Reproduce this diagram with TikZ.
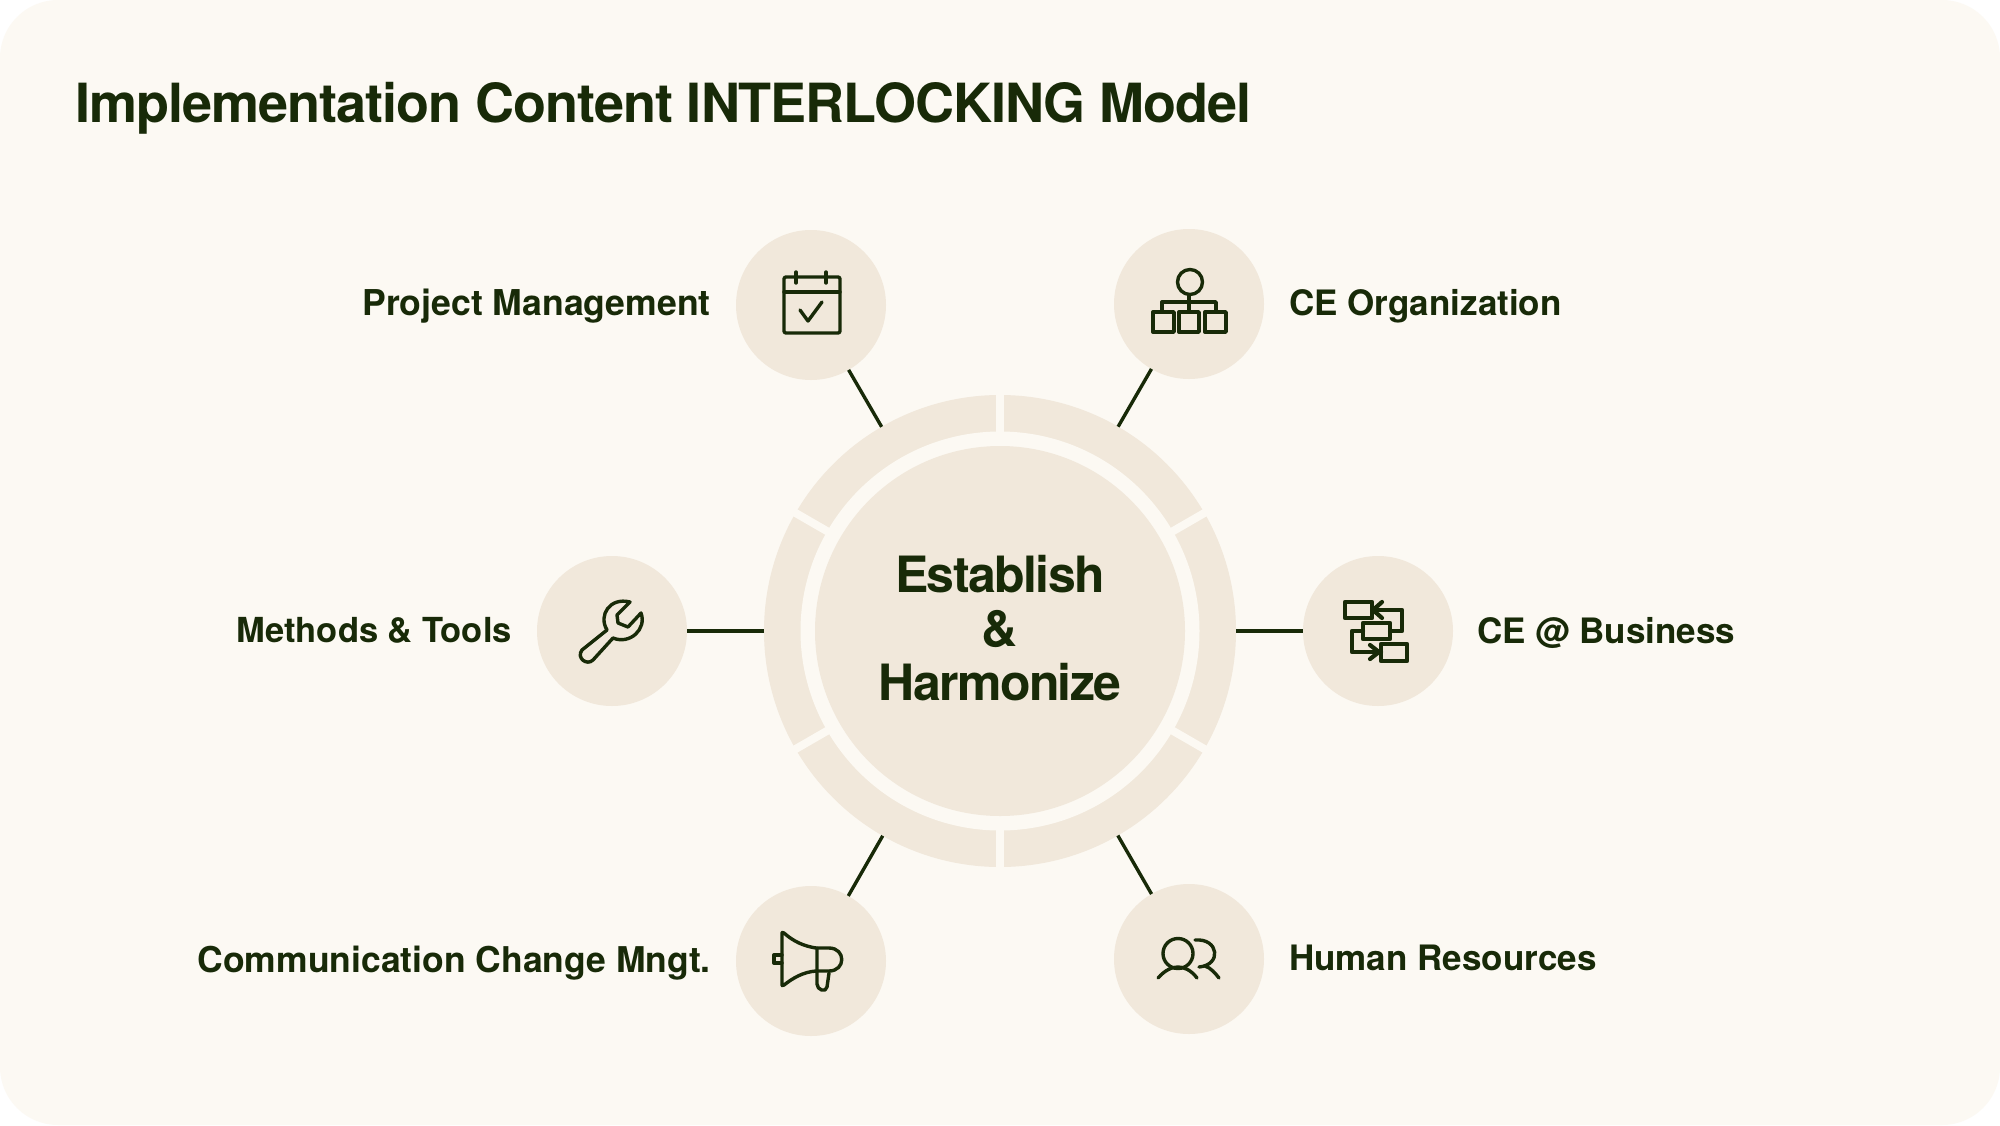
\documentclass[tikz,border=0pt]{standalone}
\usepackage{fontspec}
\setmainfont{TeX Gyre Heros}
\newfontfamily\titlefont{TeX Gyre Heros}[LetterSpace=-1.9]
\newfontfamily\corefont{TeX Gyre Heros}[LetterSpace=-3.2]
\definecolor{pagebg}{HTML}{FCF9F3}
\definecolor{tan}{HTML}{F1E8DB}
\definecolor{ink}{HTML}{182A08}
\tikzset{
  x=1pt,y=-1pt,
  spoke/.style={circle,fill=tan,draw=none,minimum size=150pt,inner sep=0pt,outer sep=0pt},
  hubring/.style={circle,fill=tan,draw=none,minimum size=472pt,inner sep=0pt,outer sep=0pt},
  hubcore/.style={circle,fill=tan,draw=none,minimum size=370pt,inner sep=0pt,outer sep=0pt},
  conn/.style={draw=ink,line width=3.4pt},
  lab/.style={text=ink,font=\bfseries\fontsize{35}{35}\selectfont,inner sep=0pt},
  ico/.style={draw=ink,line width=3.4pt,line join=round,line cap=round},
}
\begin{document}
\begin{tikzpicture}
\useasboundingbox (0,0) rectangle (2000,1125);
\fill[white] (0,0) rectangle (2000,1125);
\fill[pagebg,rounded corners=58pt] (0,0) rectangle (2000,1125);
\node[anchor=west,text=ink,font=\titlefont\bfseries\fontsize{54}{54}\selectfont,inner sep=0pt] (title) at (75,108) {Implementation Content INTERLOCKING Model};
\node[hubring] (hub) at (1000,631) {};
\fill[pagebg] (1000,631) circle (199.5pt);
\foreach \a in {30,90,150,210,270,330}
  \draw[pagebg,line width=8pt] (1000,631) ++(-\a:190pt) -- ++(-\a:55pt);
\node[hubcore] (core) at (1000,631) {};
\node[align=center,text=ink,inner sep=0pt,font=\corefont\bfseries\fontsize{50}{54}\selectfont] (coretext) at (1000,628.5) {Establish\\\&\\Harmonize};
\node[spoke] (pm) at (811,305) {};
\node[spoke] (org) at (1189,304) {};
\node[spoke] (mt) at (612,631) {};
\node[spoke] (biz) at (1378,631) {};
\node[spoke] (com) at (811,961) {};
\node[spoke] (hr) at (1189,959) {};
\foreach \s in {pm,org,mt,biz,com,hr} \draw[conn] (hub) -- (\s);
\node[lab,anchor=east,font=\bfseries\fontsize{35.6}{36}\selectfont] (lpm) at (711,306) {Project Management};
\node[lab,anchor=west] (lorg) at (1289,306) {CE Organization};
\node[lab,anchor=east,font=\bfseries\fontsize{34.5}{35}\selectfont] (lmt) at (512,630) {Methods \& Tools};
\node[lab,anchor=west] (lbiz) at (1477,633) {CE @ Business};
\node[lab,anchor=east,font=\bfseries\fontsize{35.5}{36}\selectfont] (lcom) at (711,963) {Communication Change Mngt.};
\node[lab,anchor=west] (lhr) at (1289,958) {Human Resources};
% calendar
\begin{scope}[shift={(pm.center)}]
\draw[ico,rounded corners=2pt] (-27,-28) rectangle (29,28);
\draw[ico] (-27,-13) -- (29,-13) (-15,-33) -- (-15,-22) (15,-33) -- (15,-22);
\draw[ico] (-11,5) -- (-3,16) -- (11,-3);
\end{scope}
% organisation
\begin{scope}[shift={(org.center)}]
\draw[ico] (1,-22) circle (12.5pt);
\draw[ico] (0,-9) -- (0,8) (-27,8) -- (-27,-2) -- (27,-2) -- (27,8);
\draw[ico] (-36,8) rectangle (-15,28) (-10,8) rectangle (10,28) (16,8) rectangle (37,28);
\end{scope}
% wrench
\begin{scope}[shift={(mt.center)}]
\draw[ico] (-5,-1) .. controls (-14,-16) and (-2,-34) .. (18,-29) -- (5,-16) -- (6,-8) -- (16,-4) -- (29,-18) .. controls (35,-2) and (18,14) .. (1,7) -- (-19,29) .. controls (-25,35) and (-36,27) .. (-30,19) -- cycle;
\end{scope}
% flow
\begin{scope}[shift={(biz.center)}]
\tikzset{ico/.append style={line width=4.2pt}}
\draw[ico] (-33,-29) rectangle (-6,-13) (-15,-8) rectangle (12,8) (3,13) rectangle (29,30);
\draw[ico] (-5,-21) -- (24,-21) -- (24,0) -- (12,0);
\draw[ico] (4,-29) -- (-5,-21) -- (4,-13);
\draw[ico] (-15,0) -- (-26,0) -- (-26,21) -- (3,21);
\draw[ico] (-8,14) -- (1,21) -- (-8,28);
\end{scope}
% megaphone
\begin{scope}[shift={(com.center)}]
\draw[ico] (-27,-28) .. controls (-18,-20) and (-8,-15) .. (5,-13) -- (18,-13) .. controls (35,-13) and (35,10) .. (18,10) -- (5,10) .. controls (-8,11) and (-18,17) .. (-27,24) .. controls (-29,25) and (-29,25) .. (-29,22) -- (-29,-26) .. controls (-29,-29) and (-29,-29) .. (-27,-28) -- cycle;
\draw[ico] (6,-13) -- (6,23) .. controls (6,29) and (15,32) .. (16,26) -- (18,12);
\draw[ico] (-29,-6) -- (-37,-6) -- (-37,2) -- (-29,2);
\end{scope}
% people
\begin{scope}[shift={(hr.center)}]
\draw[ico] (-11,-5.5) circle (15pt);
\draw[ico] (-31,19) .. controls (-24,11) and (-17,8) .. (-11,8) .. controls (-5,8) and (2,11) .. (8,19);
\draw[ico] (6,-19) .. controls (30,-21) and (33,6) .. (10,8);
\draw[ico] (16,7) .. controls (22,9) and (26,14) .. (30,19);
\end{scope}
\end{tikzpicture}
\end{document}
